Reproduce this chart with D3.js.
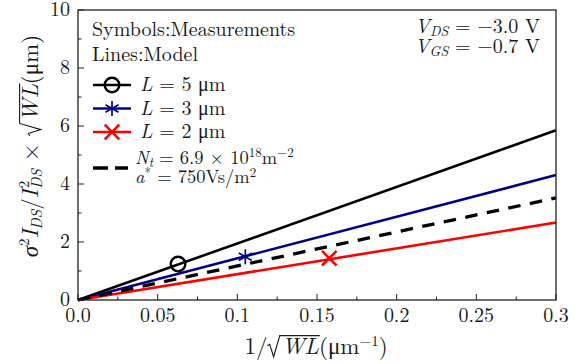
<!DOCTYPE html>
<html>
<head>
<meta charset="utf-8">
<script src="https://cdn.jsdelivr.net/npm/d3@7"></script>
<style>
body { margin: 0; background: #fff; }
svg text { font-family: "Latin Modern Roman", "CMU Serif", serif; fill: #1a1a1a; }
</style>
</head>
<body>
<script>
// model lines: value at x = 0.3 (lines go through the origin)
var seriesNames = ['L5', 'L3', 'L2', 'model'];
var lineEnd = [5.85, 4.31, 2.67, 3.52];
var lineX = [0, 0.3];
// measured points
var measX = [0.0628, 0.105, 0.1577];
var measY = [1.24, 1.49, 1.44];
var xTicks = [0, 0.05, 0.1, 0.15, 0.2, 0.25, 0.3];
var xTickLabels = ['0.0', '0.05', '0.1', '0.15', '0.2', '0.25', '0.3'];
var yTicks = [0, 2, 4, 6, 8, 10];

var W = 585, H = 364;
var margin = {left: 78, right: 29, top: 10, bottom: 64};

var colors = {L5: '#000000', L3: '#00008b', L2: '#ff0000', model: '#000000'};

var svg = d3.select('body').append('svg').attr('width', W).attr('height', H);

var x = d3.scaleLinear().domain([0, 0.3]).range([margin.left, W - margin.right]);
var y = d3.scaleLinear().domain([0, 10]).range([H - margin.bottom, margin.top]);

// lines
var line = d3.line().x(function(d){ return x(d[0]); }).y(function(d){ return y(d[1]); });
seriesNames.forEach(function(s, i){
    var pts = lineX.map(function(v){ return [v, lineEnd[i] * v / 0.3]; });
    svg.append('path').datum(pts)
        .attr('d', line)
        .attr('fill', 'none')
        .attr('stroke', colors[s])
        .attr('stroke-width', s === 'model' ? 3.3 : 2.6)
        .attr('stroke-dasharray', s === 'model' ? '12.5,9.5' : null);
});

// markers
var drawMarker = function(g, kind, cx, cy){
    if(kind === 'L5'){
        g.append('circle').attr('cx', cx).attr('cy', cy).attr('r', 7.3)
            .attr('fill', 'none').attr('stroke', '#000').attr('stroke-width', 2.4);
    } else if(kind === 'L3'){
        var r = 7.5;
        [0, 60, 120].forEach(function(a){
            var rad = (a + 90) * Math.PI / 180;
            g.append('line')
                .attr('x1', cx - r * Math.cos(rad)).attr('y1', cy - r * Math.sin(rad))
                .attr('x2', cx + r * Math.cos(rad)).attr('y2', cy + r * Math.sin(rad))
                .attr('stroke', colors.L3).attr('stroke-width', 1.7);
        });
    } else if(kind === 'L2'){
        var s = 7.3;
        g.append('path').attr('d', 'M' + (cx - s) + ',' + (cy - s) + 'L' + (cx + s) + ',' + (cy + s) +
            'M' + (cx - s) + ',' + (cy + s) + 'L' + (cx + s) + ',' + (cy - s))
            .attr('stroke', colors.L2).attr('stroke-width', 2.6);
    }
};
var mg = svg.append('g');
measX.forEach(function(v, i){
    drawMarker(mg, seriesNames[i], x(v), y(measY[i]));
});

// frame
svg.append('rect')
    .attr('x', x(0)).attr('y', y(10))
    .attr('width', x(0.3) - x(0)).attr('height', y(0) - y(10))
    .attr('fill', 'none').attr('stroke', '#222').attr('stroke-width', 1.3);

// ticks (inward)
var xMinor = d3.range(0, 0.3001, 0.025);
var yMinor = d3.range(0, 10.01, 1);
var tg = svg.append('g').attr('stroke', '#222').attr('stroke-width', 1);
xMinor.forEach(function(v, i){
    var len = i % 2 === 0 ? 6 : 3.5;
    tg.append('line').attr('x1', x(v)).attr('x2', x(v)).attr('y1', y(0)).attr('y2', y(0) - len);
});
yMinor.forEach(function(v, i){
    var len = i % 2 === 0 ? 6 : 3.5;
    tg.append('line').attr('x1', x(0)).attr('x2', x(0) + len).attr('y1', y(v)).attr('y2', y(v));
});

var fs = 20;
svg.append('g').selectAll('text').data(xTicks).enter().append('text')
    .attr('x', function(d){ return x(d); })
    .attr('y', y(0) + 22)
    .attr('text-anchor', 'middle')
    .attr('font-size', fs)
    .text(function(d, i){ return xTickLabels[i]; });
svg.append('g').selectAll('text').data(yTicks).enter().append('text')
    .attr('x', x(0) - 8)
    .attr('y', function(d){ return y(d) + 6; })
    .attr('text-anchor', 'end')
    .attr('font-size', fs)
    .text(function(d){ return d; });

// radical sign drawn as a path in front of the tspan wl
var radical = function(g, wl, f){
    var n = wl.node();
    var xs = n.getStartPositionOfChar(0).x;
    var b = n.getStartPositionOfChar(0).y;
    var xe = n.getEndPositionOfChar(n.getNumberOfChars() - 1).x;
    var x0 = xs - 0.62 * f, top = b - 0.8 * f;
    g.append('path')
        .attr('d', 'M' + x0 + ',' + (b - 0.36 * f) + 'L' + (x0 + 0.1 * f) + ',' + (b - 0.42 * f) +
            'L' + (x0 + 0.27 * f) + ',' + (b + 0.12 * f) + 'L' + (x0 + 0.54 * f) + ',' + top +
            'L' + (xe + 0.03 * f) + ',' + top)
        .attr('fill', 'none').attr('stroke', '#1a1a1a').attr('stroke-width', 1.1)
        .attr('stroke-linejoin', 'miter');
};

// axis labels
var fl = 23;
var xg = svg.append('g');
var xl = xg.append('text').attr('x', 316).attr('y', 354).attr('text-anchor', 'middle').attr('font-size', fl);
xl.append('tspan').text('1/');
var xwl = xl.append('tspan').attr('dx', 0.62 * fl).attr('font-style', 'italic').text('WL');
xl.append('tspan').text('(μm');
xl.append('tspan').attr('font-size', 15).attr('dy', -8).text('−1');
xl.append('tspan').attr('dy', 8).text(')');
radical(xg, xwl, fl);

var yg = svg.append('g').attr('transform', 'translate(38,146) rotate(-90)');
var yl = yg.append('text').attr('x', 0).attr('y', 0).attr('text-anchor', 'middle').attr('font-size', fl);
yl.append('tspan').attr('font-style', 'italic').text('σ');
yl.append('tspan').attr('font-size', 15).attr('dy', -9).text('2');
yl.append('tspan').attr('dy', 9).attr('font-style', 'italic').text('I');
yl.append('tspan').attr('font-size', 15).attr('dy', 4).attr('font-style', 'italic').text('DS');
yl.append('tspan').attr('dy', -4).text('/');
yl.append('tspan').attr('font-style', 'italic').text('I');
yl.append('tspan').attr('font-size', 15).attr('dx', 1).attr('dy', -9).text('2');
yl.append('tspan').attr('font-size', 15).attr('dx', -8).attr('dy', 13).attr('font-style', 'italic').text('DS');
yl.append('tspan').attr('dy', -4).text(' × ');
var ywl = yl.append('tspan').attr('dx', 0.62 * fl).attr('font-style', 'italic').text('WL');
yl.append('tspan').text('(μm)');
radical(yg, ywl, fl);

// notes
svg.append('text').attr('x', 92).attr('y', 36).attr('font-size', fs).text('Symbols:Measurements');
svg.append('text').attr('x', 92).attr('y', 61).attr('font-size', fs).text('Lines:Model');

var cond = [['DS', '−3.0'], ['GS', '−0.7']];
cond.forEach(function(c, i){
    var t = svg.append('text').attr('x', 540).attr('y', 33 + i * 19.5).attr('text-anchor', 'end').attr('font-size', fs);
    t.append('tspan').attr('font-style', 'italic').text('V');
    t.append('tspan').attr('font-style', 'italic').attr('font-size', 14).attr('dy', 3).text(c[0]);
    t.append('tspan').attr('dy', -3).text(' = ' + c[1] + ' V');
});

// legend
var legLabels = ['5', '3', '2'];
var lg = svg.append('g');
legLabels.forEach(function(l, i){
    var ly = 85 + i * 23.5;
    var s = seriesNames[i];
    lg.append('line').attr('x1', 93).attr('x2', 131).attr('y1', ly).attr('y2', ly)
        .attr('stroke', colors[s]).attr('stroke-width', 2.6);
    drawMarker(lg, s, 112, ly);
    var t = lg.append('text').attr('x', 140).attr('y', ly + 6).attr('font-size', fs);
    t.append('tspan').attr('font-style', 'italic').text('L');
    t.append('tspan').text(' = ' + l + ' μm');
});
lg.append('line').attr('x1', 93).attr('x2', 128).attr('y1', 168).attr('y2', 168)
    .attr('stroke', '#000').attr('stroke-width', 3.3).attr('stroke-dasharray', '15,7');
var fn = 18.5, fsup = 13;
var n1 = lg.append('text').attr('x', 135).attr('y', 164).attr('font-size', fn);
n1.append('tspan').attr('font-style', 'italic').text('N');
n1.append('tspan').attr('font-style', 'italic').attr('font-size', fsup).attr('dy', 3).text('t');
n1.append('tspan').attr('dy', -3).text(' = 6.9 × 10');
n1.append('tspan').attr('font-size', fsup).attr('dy', -7).text('18');
n1.append('tspan').attr('dy', 7).text('m');
n1.append('tspan').attr('font-size', fsup).attr('dy', -7).text('−2');
var n2 = lg.append('text').attr('x', 135).attr('y', 183).attr('font-size', fn);
n2.append('tspan').attr('font-style', 'italic').text('a');
n2.append('tspan').attr('font-size', fsup).attr('dy', -6).text('*');
n2.append('tspan').attr('dy', 6).text(' = 750Vs/m');
n2.append('tspan').attr('font-size', fsup).attr('dy', -6).text('2');
</script>
</body>
</html>
